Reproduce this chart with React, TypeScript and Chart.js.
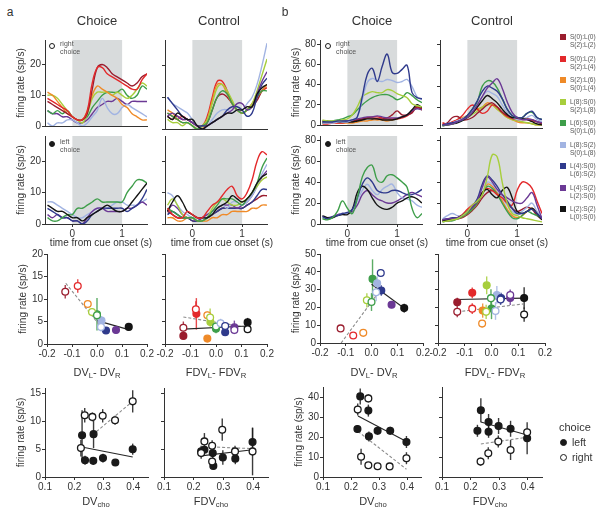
import React, { useEffect, useRef } from 'react';
import { Chart, registerables } from 'chart.js';

Chart.register(...registerables);

const FONT = '"Liberation Sans", Arial, Helvetica, sans-serif';
const INK = '#333333';

// ---------- conditions ----------
const condNamesTop = ['S(0):L(0)', 'S(0):L(2)', 'S(2):L(6)', 'L(8):S(0)', 'L(6):S(0)', 'L(8):S(2)', 'L(4):S(0)', 'L(4):S(2)', 'L(2):S(2)'];
const condNamesBottom = ['S(2):L(2)', 'S(2):L(4)', 'S(0):L(4)', 'S(2):L(8)', 'S(0):L(6)', 'S(0):L(8)', 'L(6):S(2)', 'L(2):S(0)', 'L(0):S(0)'];
const condColors = ['#9a1d2e', '#e3292b', '#ef8a28', '#a7ce3c', '#3e9e4a', '#a2b4e2', '#2f3a8c', '#6b3995', '#141414'];

// ---------- time courses ----------
const timePoints = [-0.5, -0.4, -0.3, -0.2, -0.1, 0, 0.1, 0.2, 0.3, 0.4, 0.5, 0.6, 0.7, 0.8, 0.9, 1.0, 1.1, 1.2, 1.3, 1.4, 1.5];
const timeTicks = [0, 1];
const rateTicksA = [0, 10, 20];
const rateTicksB = [0, 20, 40, 60, 80];

// panel a, choice neuron, right choice (listed bottom to top)
const aChoiceRightConds = [7, 5, 4, 3, 2, 0, 1];
const aChoiceRightRates = [
  [5, 4, 4, 3, 3, 2, 1, 1, 2, 4, 6, 7, 8, 8, 9, 8, 7, 8, 8, 8, 8],
  [1, 0, 1, 1, 2, 2, 1, 0, 1, 3, 5, 9, 6, 4, 4, 6, 7, 6, 5, 4, 3],
  [5, 4, 5, 4, 5, 3, 2, 2, 3, 6, 8, 10, 11, 11, 11, 12, 10, 9, 10, 13, 12],
  [10, 10, 9, 7, 5, 3, 2, 1, 4, 9, 11, 11, 11, 10, 11, 10, 9, 10, 12, 14, 13],
  [11, 10, 8, 6, 4, 3, 2, 2, 5, 10, 13, 12, 11, 10, 9, 7, 6, 4, 3, 2, 2],
  [8, 7, 6, 5, 4, 3, 2, 2, 4, 12, 19, 20, 19, 17, 16, 15, 14, 13, 14, 16, 17],
  [9, 8, 7, 6, 5, 3, 2, 2, 5, 14, 19, 19, 17, 16, 15, 14, 13, 12, 12, 15, 17],
];
// panel a, control neuron, right choice
const aControlRightConds = [0, 1, 2, 3, 4, 5, 6, 7, 8];
const aControlRightRates = [
  [4, 3, 4, 3, 3, 2, 1, 0, 2, 6, 10, 11, 10, 8, 6, 5, 6, 7, 9, 12, 14],
  [5, 4, 3, 4, 3, 2, 1, 1, 4, 10, 15, 15, 12, 8, 6, 5, 6, 8, 10, 12, 13],
  [6, 5, 3, 2, 2, 1, 0, 0, 3, 9, 14, 14, 11, 8, 6, 5, 6, 7, 10, 12, 14],
  [3, 2, 2, 1, 2, 1, 0, 1, 3, 8, 13, 14, 12, 9, 6, 5, 6, 8, 12, 17, 22],
  [5, 4, 3, 2, 2, 1, 0, 1, 2, 6, 10, 12, 11, 8, 6, 5, 6, 7, 10, 12, 12],
  [10, 8, 7, 6, 5, 3, 1, 0, 1, 3, 5, 6, 6, 5, 6, 6, 8, 10, 14, 20, 27],
  [10, 8, 6, 4, 3, 2, 1, 1, 1, 2, 3, 4, 6, 7, 7, 6, 4, 5, 10, 14, 16],
  [4, 5, 4, 3, 3, 2, 1, 0, 1, 2, 3, 4, 5, 6, 8, 8, 6, 7, 11, 15, 18],
  [4, 3, 5, 4, 3, 3, 1, 0, 1, 2, 3, 4, 5, 5, 6, 6, 7, 7, 11, 13, 14],
];
// panel a, choice neuron, left choice
const aChoiceLeftConds = [5, 7, 6, 4, 8];
const aChoiceLeftRates = [
  [7, 7, 6, 5, 4, 3, 2, 2, 3, 4, 5, 5, 5, 6, 7, 7, 6, 6, 6, 7, 8],
  [3, 2, 3, 2, 2, 1, 1, 0, 2, 4, 5, 5, 4, 4, 4, 4, 5, 5, 6, 7, 6],
  [5, 4, 3, 2, 2, 1, 1, 0, 1, 3, 4, 5, 5, 5, 5, 5, 4, 5, 6, 8, 11],
  [2, 1, 1, 2, 3, 3, 5, 5, 6, 7, 8, 7, 7, 7, 7, 7, 10, 12, 14, 14, 13],
  [6, 5, 4, 4, 3, 2, 2, 1, 2, 3, 4, 5, 6, 5, 4, 4, 5, 7, 9, 11, 13],
];
// panel a, control neuron, left choice
const aControlLeftConds = [2, 0, 6, 7, 5, 3, 4, 8, 1];
const aControlLeftRates = [
  [2, 2, 1, 1, 2, 2, 1, 1, 1, 2, 2, 3, 3, 4, 4, 4, 4, 5, 5, 6, 6],
  [4, 3, 2, 2, 2, 1, 1, 1, 2, 3, 4, 5, 5, 5, 5, 5, 6, 7, 8, 9, 9],
  [3, 4, 3, 2, 2, 1, 1, 2, 2, 3, 4, 5, 5, 5, 5, 5, 6, 7, 9, 11, 11],
  [4, 6, 5, 3, 2, 2, 1, 2, 3, 4, 5, 6, 6, 6, 5, 6, 7, 9, 12, 15, 17],
  [10, 9, 6, 4, 3, 2, 2, 2, 2, 3, 5, 6, 5, 7, 7, 6, 7, 9, 12, 16, 19],
  [6, 8, 6, 3, 2, 2, 1, 1, 2, 5, 7, 8, 7, 6, 6, 7, 8, 10, 12, 14, 15],
  [5, 4, 3, 2, 2, 2, 1, 1, 2, 4, 6, 8, 8, 8, 7, 6, 8, 10, 13, 18, 21],
  [4, 7, 9, 7, 4, 3, 2, 2, 2, 3, 5, 6, 7, 9, 8, 7, 8, 10, 13, 15, 16],
  [5, 3, 2, 2, 4, 3, 2, 2, 4, 6, 7, 9, 11, 12, 9, 8, 10, 14, 20, 23, 22],
];
// panel b, choice neuron, right choice
const bChoiceRightConds = [2, 1, 0, 7, 8, 4, 3, 5, 6];
const bChoiceRightRates = [
  [3, 3, 3, 2, 2, 2, 2, 3, 4, 4, 5, 5, 5, 4, 5, 6, 8, 10, 14, 18, 15],
  [1, 1, 2, 2, 2, 3, 4, 5, 6, 7, 8, 8, 7, 6, 6, 6, 7, 9, 13, 17, 16],
  [2, 2, 3, 3, 3, 3, 4, 5, 6, 7, 7, 6, 6, 7, 10, 14, 10, 10, 12, 18, 15],
  [3, 3, 3, 4, 4, 4, 5, 6, 7, 8, 8, 9, 8, 7, 7, 7, 8, 10, 14, 16, 15],
  [4, 4, 3, 3, 3, 3, 3, 4, 5, 6, 6, 6, 5, 5, 5, 6, 8, 10, 15, 20, 17],
  [2, 3, 4, 5, 6, 8, 10, 15, 20, 24, 27, 29, 30, 30, 28, 25, 27, 32, 29, 25, 22],
  [5, 4, 4, 4, 5, 6, 10, 18, 28, 31, 33, 32, 32, 35, 34, 31, 29, 27, 21, 19, 18],
  [2, 2, 2, 3, 3, 3, 5, 8, 25, 42, 46, 44, 43, 45, 44, 42, 43, 45, 38, 28, 25],
  [3, 3, 3, 4, 4, 4, 5, 8, 28, 50, 56, 43, 58, 70, 52, 51, 55, 59, 32, 27, 26],
];
// panel b, control neuron, right choice
const bControlRightConds = [2, 3, 1, 0, 5, 8, 4, 6, 7];
const bControlRightRates = [
  [4, 3, 5, 8, 10, 12, 15, 18, 20, 24, 22, 18, 14, 10, 8, 6, 5, 5, 4, 3, 3],
  [3, 3, 4, 6, 8, 10, 13, 16, 20, 22, 22, 18, 14, 10, 8, 7, 6, 5, 4, 3, 3],
  [5, 4, 6, 8, 12, 18, 22, 18, 14, 16, 22, 20, 15, 11, 9, 8, 8, 8, 7, 6, 5],
  [3, 5, 10, 11, 8, 8, 10, 14, 18, 22, 24, 20, 15, 12, 10, 9, 9, 9, 8, 6, 4],
  [3, 4, 5, 7, 9, 12, 16, 22, 30, 35, 33, 30, 22, 15, 10, 8, 8, 10, 12, 8, 6],
  [2, 3, 4, 5, 7, 10, 14, 20, 26, 31, 28, 24, 18, 13, 10, 10, 9, 8, 6, 4, 3],
  [2, 3, 4, 6, 8, 12, 18, 25, 40, 45, 44, 38, 28, 18, 12, 10, 10, 14, 15, 10, 8],
  [3, 4, 5, 6, 8, 12, 18, 26, 35, 40, 38, 35, 28, 18, 12, 10, 10, 14, 16, 10, 8],
  [3, 3, 4, 6, 8, 10, 15, 22, 30, 38, 43, 47, 38, 25, 15, 10, 8, 8, 8, 6, 5],
];
// panel b, choice neuron, left choice
const bChoiceLeftConds = [7, 5, 8, 6, 4];
const bChoiceLeftRates = [
  [7, 6, 7, 9, 10, 10, 12, 18, 28, 32, 28, 24, 22, 20, 20, 22, 25, 28, 30, 28, 26],
  [6, 5, 6, 8, 10, 10, 13, 22, 32, 38, 32, 28, 33, 36, 38, 30, 25, 24, 22, 18, 16],
  [8, 6, 6, 8, 9, 9, 14, 30, 36, 33, 25, 18, 15, 14, 16, 20, 22, 25, 26, 24, 20],
  [7, 5, 7, 8, 10, 11, 14, 25, 38, 44, 40, 32, 30, 30, 32, 32, 30, 28, 28, 30, 33],
  [5, 4, 6, 12, 22, 15, 10, 25, 45, 54, 56, 42, 40, 46, 47, 44, 40, 35, 15, 6, 10],
];
// panel b, control neuron, left choice
const bControlLeftConds = [0, 2, 4, 5, 1, 8, 6, 7, 3];
const bControlLeftRates = [
  [3, 3, 4, 5, 6, 9, 13, 18, 25, 30, 32, 30, 25, 20, 15, 12, 14, 16, 14, 8, 4],
  [3, 3, 4, 5, 7, 10, 14, 20, 28, 38, 36, 30, 22, 14, 8, 6, 8, 12, 15, 10, 5],
  [2, 3, 3, 5, 7, 10, 14, 20, 28, 36, 34, 28, 20, 12, 6, 5, 8, 12, 10, 8, 5],
  [5, 8, 10, 8, 8, 12, 16, 22, 30, 40, 38, 32, 25, 18, 12, 10, 12, 16, 20, 12, 6],
  [4, 4, 5, 6, 9, 14, 18, 22, 30, 34, 32, 28, 25, 20, 18, 32, 40, 39, 34, 22, 10],
  [3, 4, 5, 6, 8, 12, 16, 22, 30, 33, 28, 25, 32, 35, 25, 12, 10, 12, 15, 10, 4],
  [4, 5, 6, 6, 8, 12, 17, 24, 38, 46, 42, 36, 28, 22, 15, 10, 10, 12, 14, 10, 5],
  [4, 5, 5, 6, 8, 12, 16, 22, 35, 45, 40, 33, 28, 25, 22, 20, 20, 25, 30, 18, 5],
  [2, 3, 4, 5, 8, 12, 18, 22, 28, 45, 66, 64, 40, 20, 10, 8, 6, 5, 4, 3, 2],
];

// ---------- rate vs DV_L - DV_R ----------
const dvTicks = [-0.2, -0.1, 0, 0.1, 0.2];
const dvRateTicksA = [0, 5, 10, 15, 20];
const dvRateTicksB = [0, 10, 20, 30, 40, 50];

const aChoiceDvX = [-0.127, -0.077, -0.037, -0.02, 0.0, 0.0, 0.016, 0.018, 0.036, 0.076, 0.127];
const aChoiceDvRate = [11.6, 12.9, 8.9, 7.1, 6.4, 6.6, 3.8, 5.2, 3.0, 3.1, 3.8];
const aChoiceDvErr = [1.5, 1.5, 0.6, 0.9, 1.0, 3.6, 1.0, 1.0, 0.4, 0.5, 0.7];
const aChoiceDvCond = [0, 1, 2, 3, 4, 4, 5, 5, 6, 7, 8];
const aChoiceDvOpen = [1, 1, 1, 1, 1, 0, 1, 0, 0, 0, 0];
const aChoiceDvFitLeft = [0.0, 5.2, 0.127, 3.2];
const aChoiceDvFitRight = [-0.125, 13.5, 0.016, 3.8];

const aControlDvX = [-0.128, -0.128, -0.079, -0.077, -0.034, -0.034, -0.023, -0.022, 0.0, 0.0, 0.018, 0.036, 0.036, 0.072, 0.072, 0.124, 0.124];
const aControlDvRate = [3.6, 1.8, 7.7, 6.7, 6.4, 1.2, 5.9, 4.9, 3.9, 3.4, 4.6, 4.0, 2.6, 3.1, 3.7, 4.8, 3.3];
const aControlDvErr = [1.4, 0.5, 1.8, 3.5, 0.8, 0.4, 2.0, 1.0, 0.6, 1.0, 1.0, 0.8, 0.6, 0.7, 1.5, 1.0, 0.5];
const aControlDvCond = [0, 0, 1, 1, 2, 2, 3, 3, 4, 4, 5, 6, 6, 7, 7, 8, 8];
const aControlDvOpen = [1, 0, 1, 0, 1, 0, 1, 0, 1, 0, 1, 1, 0, 1, 0, 0, 1];
const aControlDvFitLeft = [-0.128, 3.3, 0.124, 4.0];
const aControlDvFitRight = [-0.128, 6.0, 0.124, 3.7];

const bChoiceDvX = [-0.12, -0.071, -0.032, -0.018, 0.0, 0.004, 0.018, 0.022, 0.036, 0.038, 0.078, 0.127];
const bChoiceDvRate = [8.2, 4.2, 5.7, 24, 23, 36, 28.5, 33.5, 39.3, 29.5, 21.5, 19.6];
const bChoiceDvErr = [1.0, 0.8, 0.8, 4, 5, 11, 5, 4, 2, 3, 1.5, 2.5];
const bChoiceDvCond = [0, 1, 2, 3, 4, 4, 5, 5, 6, 6, 7, 8];
const bChoiceDvOpen = [1, 1, 1, 1, 1, 0, 1, 0, 1, 0, 0, 0];
const bChoiceDvFitLeft = [0.0, 33, 0.127, 19.5];
const bChoiceDvFitRight = [-0.118, 0, 0.02, 27];

const bControlDvX = [-0.128, -0.128, -0.072, -0.072, -0.035, -0.033, -0.018, -0.02, 0.0, -0.002, 0.015, 0.02, 0.034, 0.036, 0.07, 0.07, 0.122, 0.122];
const bControlDvRate = [22.9, 17.5, 28.2, 19.3, 10.9, 18.2, 32.4, 17.5, 19.4, 25.2, 18.0, 27, 24.4, 25.3, 25.3, 27, 25.3, 16.0];
const bControlDvErr = [2.5, 3, 3, 3, 2, 4, 5, 4, 6, 5, 5, 5, 3, 3, 4, 3, 6, 4];
const bControlDvCond = [0, 0, 1, 1, 2, 2, 3, 3, 4, 4, 5, 5, 6, 6, 7, 7, 8, 8];
const bControlDvOpen = [0, 1, 0, 1, 1, 0, 0, 1, 0, 1, 1, 0, 1, 0, 0, 1, 0, 1];
const bControlDvFitLeft = [-0.128, 24.4, 0.122, 25.2];
const bControlDvFitRight = [-0.128, 17.5, 0.122, 22.0];

// ---------- rate vs DV_cho ----------
const choTicks = [0.1, 0.2, 0.3, 0.4];
const choRateTicksA = [0, 5, 10, 15];
const choRateTicksB = [0, 10, 20, 30, 40];

const aChoiceChoX = [0.222, 0.235, 0.261, 0.296, 0.338, 0.398, 0.226, 0.236, 0.265, 0.264, 0.297, 0.339, 0.398];
const aChoiceChoRate = [5.2, 11.1, 10.8, 11.0, 10.2, 13.6, 7.5, 3.0, 7.7, 2.9, 3.4, 2.6, 5.0];
const aChoiceChoErr = [1.5, 1.3, 0.8, 1.2, 0.8, 2.0, 4.5, 0.8, 2.5, 0.6, 0.8, 0.5, 1.0];
const aChoiceChoOpen = [1, 1, 1, 1, 1, 1, 0, 0, 0, 0, 0, 0, 0];
const aChoiceChoFitLeft = [0.225, 5.4, 0.398, 3.6];
const aChoiceChoFitRight = [0.262, 7.6, 0.398, 13.6];

const aControlChoX = [0.225, 0.236, 0.262, 0.262, 0.296, 0.339, 0.398, 0.225, 0.236, 0.264, 0.266, 0.298, 0.34, 0.398];
const aControlChoRate = [4.3, 6.4, 5.6, 2.8, 8.5, 4.6, 4.6, 4.6, 4.9, 4.3, 2.0, 3.5, 3.3, 6.3];
const aControlChoErr = [1.0, 1.5, 1.0, 0.6, 2.0, 1.0, 4.3, 1.0, 0.6, 1.0, 0.5, 1.3, 1.0, 2.5];
const aControlChoOpen = [1, 1, 1, 1, 1, 1, 1, 0, 0, 0, 0, 0, 0, 0];
const aControlChoFitLeft = [0.225, 3.8, 0.398, 4.9];
const aControlChoFitRight = [0.262, 5.4, 0.398, 5.1];

const bChoiceChoX = [0.233, 0.223, 0.262, 0.264, 0.295, 0.34, 0.398, 0.224, 0.236, 0.262, 0.262, 0.295, 0.338, 0.398];
const bChoiceChoRate = [40.3, 24, 33.2, 20.3, 23.1, 23.1, 17.5, 33.7, 10.1, 39.3, 5.9, 5.4, 5.3, 9.4];
const bChoiceChoErr = [4, 2, 3, 2.5, 2, 2, 3, 3, 4, 2, 1, 0.8, 0.8, 3];
const bChoiceChoOpen = [0, 0, 0, 0, 0, 0, 0, 1, 1, 1, 1, 1, 1, 1];
const bChoiceChoFitLeft = [0.225, 30.5, 0.398, 17.7];
const bChoiceChoFitRight = [0.225, 22.8, 0.398, 3.9];

const bControlChoX = [0.224, 0.236, 0.263, 0.263, 0.298, 0.34, 0.398, 0.235, 0.262, 0.297, 0.34, 0.398];
const bControlChoRate = [23.1, 33.4, 27.5, 22.6, 25.5, 24.1, 19.4, 7.7, 11.9, 17.7, 13.5, 22.4];
const bControlChoErr = [3, 6, 4, 3, 4, 4, 8, 2, 3, 3, 5, 2];
const bControlChoOpen = [0, 0, 0, 0, 0, 0, 0, 1, 1, 1, 1, 1];
const bControlChoFitLeft = [0.236, 27.5, 0.398, 21];
const bControlChoFitRight = [0.236, 16.5, 0.398, 19.9];

// ---------- plugins ----------
const cueBox = {
  id: 'cueBox',
  beforeDraw(chart: any, _args: any, opts: any) {
    if (!opts || !opts.on) return;
    const { ctx, chartArea, scales } = chart;
    const xa = scales.x.getPixelForValue(0);
    const xb = scales.x.getPixelForValue(1);
    ctx.save();
    ctx.fillStyle = '#d8dbdc';
    ctx.fillRect(xa, chartArea.top, xb - xa, chartArea.bottom - chartArea.top);
    ctx.restore();
  },
};

const errorBars = {
  id: 'errorBars',
  beforeDatasetsDraw(chart: any) {
    const { ctx, scales } = chart;
    ctx.save();
    chart.data.datasets.forEach((ds: any) => {
      if (!ds.errs) return;
      ds.data.forEach((p: any, i: number) => {
        const x = scales.x.getPixelForValue(p.x);
        const y1 = scales.y.getPixelForValue(p.y - ds.errs[i]);
        const y2 = scales.y.getPixelForValue(p.y + ds.errs[i]);
        ctx.strokeStyle = ds.errColors[i];
        ctx.globalAlpha = 0.85;
        ctx.lineWidth = 1.4;
        ctx.beginPath();
        ctx.moveTo(x, y1);
        ctx.lineTo(x, y2);
        ctx.stroke();
      });
    });
    ctx.restore();
  },
};

// ---------- builders ----------
function timeDatasets(conds: number[], rates: number[][]) {
  return conds
    .map((c, k) => ({
      data: timePoints.map((t, i) => ({ x: t, y: rates[k][i] })),
      borderColor: condColors[c],
      borderWidth: 1.4,
      pointRadius: 0,
      tension: 0.4,
      fill: false,
    }))
    .reverse();
}

function scatterDatasets(xs: number[], ys: number[], es: number[], open: number[], conds: number[] | null, fitL: number[], fitR: number[]) {
  const colorOf = (i: number) => (conds ? condColors[conds[i]] : '#1a1a1a');
  const mk = (flag: number) => {
    const idx = xs.map((_, i) => i).filter((i) => open[i] === flag);
    return {
      data: idx.map((i) => ({ x: xs[i], y: ys[i] })),
      errs: idx.map((i) => es[i]),
      errColors: idx.map((i) => colorOf(i)),
      pointRadius: 3.4,
      pointHoverRadius: 3.4,
      pointBorderWidth: 1.3,
      pointBorderColor: idx.map((i) => colorOf(i)),
      pointBackgroundColor: idx.map((i) => (flag ? '#ffffff' : colorOf(i))),
      order: 0,
    };
  };
  const line = (f: number[], dashed: boolean) => ({
    data: [{ x: f[0], y: f[1] }, { x: f[2], y: f[3] }],
    showLine: true,
    borderColor: dashed ? '#8c8c8c' : '#262626',
    borderWidth: 1.1,
    borderDash: dashed ? [3, 2] : [],
    pointRadius: 0,
    order: 1,
  });
  return [mk(1), mk(0), line(fitL, false), line(fitR, true)];
}

function axisOpts(min: number, max: number, vals: number[], showLabels: boolean, showTicks: boolean, isY: boolean, fixed: number, fmt: ((v: number) => string) | null, title: string | null) {
  return {
    type: 'linear',
    position: isY ? 'left' : 'bottom',
    min,
    max,
    afterBuildTicks: (s: any) => {
      s.ticks = vals.map((v) => ({ value: v }));
    },
    afterFit: (s: any) => {
      if (isY) s.width = fixed;
      else s.height = fixed;
    },
    grid: { display: true, drawOnChartArea: false, drawTicks: showTicks, tickLength: 3, color: INK, tickColor: INK, lineWidth: 1 },
    border: { display: true, color: INK, width: 1 },
    ticks: {
      display: showLabels,
      color: INK,
      padding: 1,
      maxRotation: 0,
      autoSkip: false,
      font: { family: FONT, size: 10 },
      callback: (v: any) => (fmt ? fmt(Number(v)) : String(Math.round(Number(v) * 100) / 100)),
    },
    title: title
      ? { display: true, text: title, color: INK, font: { family: FONT, size: 10 }, padding: { top: 0, bottom: 0 } }
      : { display: false },
  };
}

const fmt1 = (v: number) => (Math.abs(v) < 1e-9 ? '0.0' : v.toFixed(1));

type Spec = {
  rect: number[]; // x0, x1, top, bottom (plot area, page px)
  kind: 'time' | 'scatter';
  yLabels: boolean;
  xLabels: boolean;
  xTickMarks: boolean;
  xMin: number;
  xMax: number;
  xTicks: number[];
  xFmt: ((v: number) => string) | null;
  yMin: number;
  yMax: number;
  yTicks: number[];
  cue: boolean;
  build: () => any[];
};

const YTITLE = 'firing rate (sp/s)';

function timeSpec(rect: number[], yLabels: boolean, xLabels: boolean, yMax: number, yTicks: number[], conds: number[], rates: number[][]): Spec {
  return {
    rect, kind: 'time', yLabels, xLabels, xTickMarks: xLabels,
    xMin: -0.55, xMax: 1.5, xTicks: timeTicks, xFmt: null,
    yMin: 0, yMax, yTicks, cue: true,
    build: () => timeDatasets(conds, rates),
  };
}

function scatterSpec(rect: number[], yLabels: boolean, xMin: number, xMax: number, xTicks: number[], yMax: number, yTicks: number[], build: () => any[]): Spec {
  return {
    rect, kind: 'scatter', yLabels, xLabels: true, xTickMarks: true,
    xMin, xMax, xTicks, xFmt: fmt1, yMin: 0, yMax, yTicks, cue: false, build,
  };
}

const specs: Spec[] = [
  timeSpec([45, 147, 40, 129], true, false, 28, rateTicksA, aChoiceRightConds, aChoiceRightRates),
  timeSpec([165, 267, 40, 129], false, false, 28, rateTicksA, aControlRightConds, aControlRightRates),
  timeSpec([45, 147, 136, 224], true, true, 28, rateTicksA, aChoiceLeftConds, aChoiceLeftRates),
  timeSpec([165, 267, 136, 224], false, true, 28, rateTicksA, aControlLeftConds, aControlLeftRates),
  timeSpec([320, 422, 40, 128], true, false, 84, rateTicksB, bChoiceRightConds, bChoiceRightRates),
  timeSpec([440, 542, 40, 128], false, false, 84, rateTicksB, bControlRightConds, bControlRightRates),
  timeSpec([320, 422, 136, 224], true, true, 84, rateTicksB, bChoiceLeftConds, bChoiceLeftRates),
  timeSpec([440, 542, 136, 224], false, true, 84, rateTicksB, bControlLeftConds, bControlLeftRates),

  scatterSpec([47, 147, 254, 344], true, -0.2, 0.2, dvTicks, 20, dvRateTicksA, () =>
    scatterDatasets(aChoiceDvX, aChoiceDvRate, aChoiceDvErr, aChoiceDvOpen, aChoiceDvCond, aChoiceDvFitLeft, aChoiceDvFitRight)),
  scatterSpec([165, 267, 254, 344], false, -0.2, 0.2, dvTicks, 20, dvRateTicksA, () =>
    scatterDatasets(aControlDvX, aControlDvRate, aControlDvErr, aControlDvOpen, aControlDvCond, aControlDvFitLeft, aControlDvFitRight)),
  scatterSpec([320, 423, 254, 343], true, -0.2, 0.2, dvTicks, 50, dvRateTicksB, () =>
    scatterDatasets(bChoiceDvX, bChoiceDvRate, bChoiceDvErr, bChoiceDvOpen, bChoiceDvCond, bChoiceDvFitLeft, bChoiceDvFitRight)),
  scatterSpec([438, 545, 254, 343], false, -0.2, 0.2, dvTicks, 50, dvRateTicksB, () =>
    scatterDatasets(bControlDvX, bControlDvRate, bControlDvErr, bControlDvOpen, bControlDvCond, bControlDvFitLeft, bControlDvFitRight)),

  scatterSpec([45, 148, 388, 477], true, 0.1, 0.45, choTicks, 16, choRateTicksA, () =>
    scatterDatasets(aChoiceChoX, aChoiceChoRate, aChoiceChoErr, aChoiceChoOpen, null, aChoiceChoFitLeft, aChoiceChoFitRight)),
  scatterSpec([164, 268, 388, 477], false, 0.1, 0.45, choTicks, 16, choRateTicksA, () =>
    scatterDatasets(aControlChoX, aControlChoRate, aControlChoErr, aControlChoOpen, null, aControlChoFitLeft, aControlChoFitRight)),
  scatterSpec([323, 421, 387, 477], true, 0.1, 0.45, choTicks, 45, choRateTicksB, () =>
    scatterDatasets(bChoiceChoX, bChoiceChoRate, bChoiceChoErr, bChoiceChoOpen, null, bChoiceChoFitLeft, bChoiceChoFitRight)),
  scatterSpec([442, 542, 387, 477], false, 0.1, 0.45, choTicks, 45, choRateTicksB, () =>
    scatterDatasets(bControlChoX, bControlChoRate, bControlChoErr, bControlChoOpen, null, bControlChoFitLeft, bControlChoFitRight)),
];

function ChartBox({ spec }: { spec: Spec }) {
  const ref = useRef<HTMLCanvasElement>(null);
  const [x0, x1, top, bottom] = spec.rect;
  const wy = spec.yLabels ? 30 : 14;
  const hx = spec.xLabels ? 16 : 2;
  const padL = 2, padR = 14, padT = 8, padB = 2;
  const left = x0 - wy - padL;
  const width = x1 - x0 + wy + padL + padR;
  const ctop = top - padT;
  const height = bottom - top + padT + hx + padB;

  useEffect(() => {
    if (!ref.current) return;
    const cfg: any = {
      type: spec.kind === 'time' ? 'line' : 'scatter',
      data: { datasets: spec.build() },
      options: {
        responsive: false,
        maintainAspectRatio: false,
        animation: false,
        events: [],
        layout: { padding: { left: padL, right: padR, top: padT, bottom: padB } },
        plugins: { legend: { display: false }, tooltip: { enabled: false }, cueBox: { on: spec.cue } },
        scales: {
          x: axisOpts(spec.xMin, spec.xMax, spec.xTicks, spec.xLabels, spec.xTickMarks, false, hx, spec.xFmt, null),
          y: axisOpts(spec.yMin, spec.yMax, spec.yTicks, spec.yLabels, true, true, wy, null, spec.yLabels ? YTITLE : null),
        },
      },
      plugins: [cueBox, errorBars],
    };
    const chart = new Chart(ref.current, cfg);
    return () => chart.destroy();
  }, []);

  return (
    <canvas
      ref={ref}
      width={width}
      height={height}
      style={{ position: 'absolute', left, top: ctop, width, height }}
    />
  );
}

function T({ x, y, size, children, align = 'center', color = INK }: any) {
  const tx = align === 'center' ? '-50%' : align === 'right' ? '-100%' : '0';
  return (
    <div
      style={{
        position: 'absolute', left: x, top: y, fontSize: size, lineHeight: 1,
        whiteSpace: 'nowrap', transform: `translate(${tx},-50%)`, color,
      }}
    >
      {children}
    </div>
  );
}

const Sub = ({ children }: any) => (
  <sub style={{ fontSize: '0.7em', verticalAlign: '-0.3em', lineHeight: 0 }}>{children}</sub>
);

function Dot({ x, y, open }: { x: number; y: number; open: boolean }) {
  return (
    <div
      style={{
        position: 'absolute', left: x - 3.5, top: y - 3.5, width: 7, height: 7, boxSizing: 'border-box',
        borderRadius: '50%', border: '1.4px solid #1a1a1a', background: open ? '#fff' : '#1a1a1a',
      }}
    />
  );
}

function InlineKey({ x, y, open, word }: { x: number; y: number; open: boolean; word: string }) {
  return (
    <>
      <div
        style={{
          position: 'absolute', left: x - 3, top: y - 3, width: 6, height: 6, boxSizing: 'border-box',
          borderRadius: '50%', border: '1.4px solid #1a1a1a', background: open ? '#fff' : '#1a1a1a',
        }}
      />
      <T x={x + 8} y={y - 3} size={7} align="left" color="#555">{word}</T>
      <T x={x + 8} y={y + 5} size={7} align="left" color="#555">choice</T>
    </>
  );
}

export default function App() {
  const legendY = [37, 58.5, 80, 101.5, 123, 144.5, 166, 187.5, 209];
  return (
    <div
      style={{
        position: 'absolute', left: 0, top: 0, width: 604, height: 516, overflow: 'hidden',
        background: '#fff', fontFamily: FONT, color: INK,
      }}
    >
      {specs.map((s, i) => (
        <ChartBox key={i} spec={s} />
      ))}

      <T x={10} y={12} size={12}>a</T>
      <T x={285} y={12} size={12}>b</T>
      <T x={97} y={20} size={13}>Choice</T>
      <T x={219} y={20} size={13}>Control</T>
      <T x={372} y={20} size={13}>Choice</T>
      <T x={492} y={20} size={13}>Control</T>

      <InlineKey x={52} y={46} open={true} word="right" />
      <InlineKey x={52} y={144} open={false} word="left" />
      <InlineKey x={328} y={46} open={true} word="right" />
      <InlineKey x={328} y={144} open={false} word="left" />

      <T x={101} y={243} size={10}>time from cue onset (s)</T>
      <T x={222} y={243} size={10}>time from cue onset (s)</T>
      <T x={377} y={243} size={10}>time from cue onset (s)</T>
      <T x={497} y={243} size={10}>time from cue onset (s)</T>

      <T x={97} y={372} size={11}>DV<Sub>L</Sub>- DV<Sub>R</Sub></T>
      <T x={216} y={372} size={11}>FDV<Sub>L</Sub>- FDV<Sub>R</Sub></T>
      <T x={374} y={372} size={11}>DV<Sub>L</Sub>- DV<Sub>R</Sub></T>
      <T x={495} y={372} size={11}>FDV<Sub>L</Sub>- FDV<Sub>R</Sub></T>

      <T x={96} y={501} size={11}>DV<Sub>cho</Sub></T>
      <T x={211} y={501} size={11}>FDV<Sub>cho</Sub></T>
      <T x={373} y={501} size={11}>DV<Sub>cho</Sub></T>
      <T x={490} y={501} size={11}>FDV<Sub>cho</Sub></T>

      {condColors.map((c, i) => (
        <React.Fragment key={i}>
          <div style={{ position: 'absolute', left: 560, top: legendY[i] - 3, width: 6, height: 6, background: c }} />
          <T x={570} y={legendY[i]} size={6.5} align="left" color="#555">{condNamesTop[i]}</T>
          <T x={570} y={legendY[i] + 8} size={6.5} align="left" color="#555">{condNamesBottom[i]}</T>
        </React.Fragment>
      ))}

      <T x={559} y={427} size={11} align="left">choice</T>
      <Dot x={563} y={442} open={false} />
      <T x={572} y={442} size={10.5} align="left">left</T>
      <Dot x={563} y={457} open={true} />
      <T x={572} y={457} size={10.5} align="left">right</T>
    </div>
  );
}
